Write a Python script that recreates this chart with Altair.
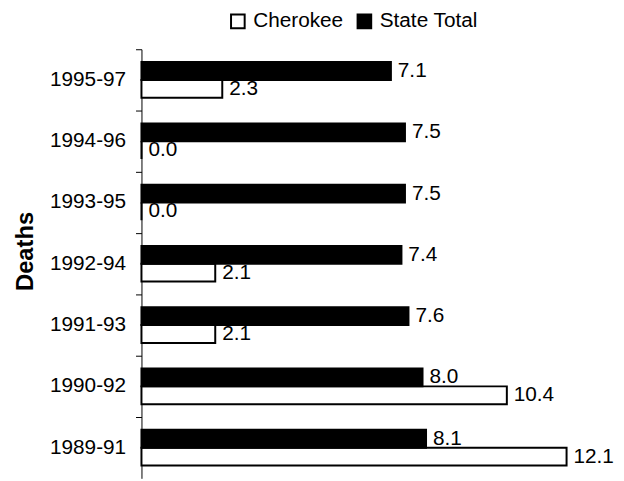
import altair as alt
import pandas as pd

periods = ["1995-97", "1994-96", "1993-95", "1992-94", "1991-93", "1990-92", "1989-91"]
cherokee = [2.3, 0.0, 0.0, 2.1, 2.1, 10.4, 12.1]
state_total = [7.1, 7.5, 7.5, 7.4, 7.6, 8.0, 8.1]
series_names = ["Cherokee", "State Total"]

rows = []
for p, c, s in zip(periods, cherokee, state_total):
    rows.append({"period": p, "series": "Cherokee", "value": c})
    rows.append({"period": p, "series": "State Total", "value": s})
df = pd.DataFrame(rows)

FONT = "Liberation Sans"

y_enc = alt.Y(
    "period:N",
    sort=periods,
    scale=alt.Scale(paddingInner=0, paddingOuter=0),
    axis=alt.Axis(
        title="Deaths",
        titleFont=FONT,
        titleFontSize=24,
        titleFontWeight="bold",
        titleColor="black",
        titlePadding=12,
        titleY=204,
        labelFont=FONT,
        labelFontSize=21,
        labelColor="black",
        labelPadding=10,
        tickSize=6,
        tickColor="black",
        domainColor="black",
        bandPosition=0,
        grid=False,
    ),
)
yoff_enc = alt.YOffset(
    "series:N",
    sort=["State Total", "Cherokee"],
    scale=alt.Scale(paddingInner=0, paddingOuter=0.72),
)
x_enc = alt.X("value:Q", scale=alt.Scale(domain=[0, 12.1], nice=False), axis=None)

bars = alt.Chart(df).mark_bar(stroke="black", strokeWidth=2).encode(
    y=y_enc,
    yOffset=yoff_enc,
    x=x_enc,
    fill=alt.Fill(
        "series:N",
        scale=alt.Scale(domain=series_names, range=["white", "black"]),
        legend=alt.Legend(
            title=None,
            orient="none",
            legendX=87,
            legendY=-39,
            direction="horizontal",
            symbolType="square",
            symbolSize=190,
            symbolStrokeColor="black",
            symbolStrokeWidth=2,
            labelFont=FONT,
            labelFontSize=21,
            labelColor="black",
            labelOffset=5,
            columnPadding=9,
        ),
    ),
)

labels = alt.Chart(df).mark_text(
    align="left", baseline="middle", dx=7, font=FONT, fontSize=21, color="black"
).encode(
    y=alt.Y("period:N", sort=periods),
    yOffset=alt.YOffset("series:N", sort=["State Total", "Cherokee"]),
    x="value:Q",
    text=alt.Text("value:Q", format=".1f"),
)

chart = (
    alt.layer(bars, labels)
    .properties(
        width=430,
        height=434,
        autosize=alt.AutoSizeParams(type="none"),
        padding={"left": 135, "top": 39, "right": 50, "bottom": 0},
    )
    .configure_view(stroke=None)
)

chart.save("out.html", embed_options={"renderer": "svg", "actions": False})
